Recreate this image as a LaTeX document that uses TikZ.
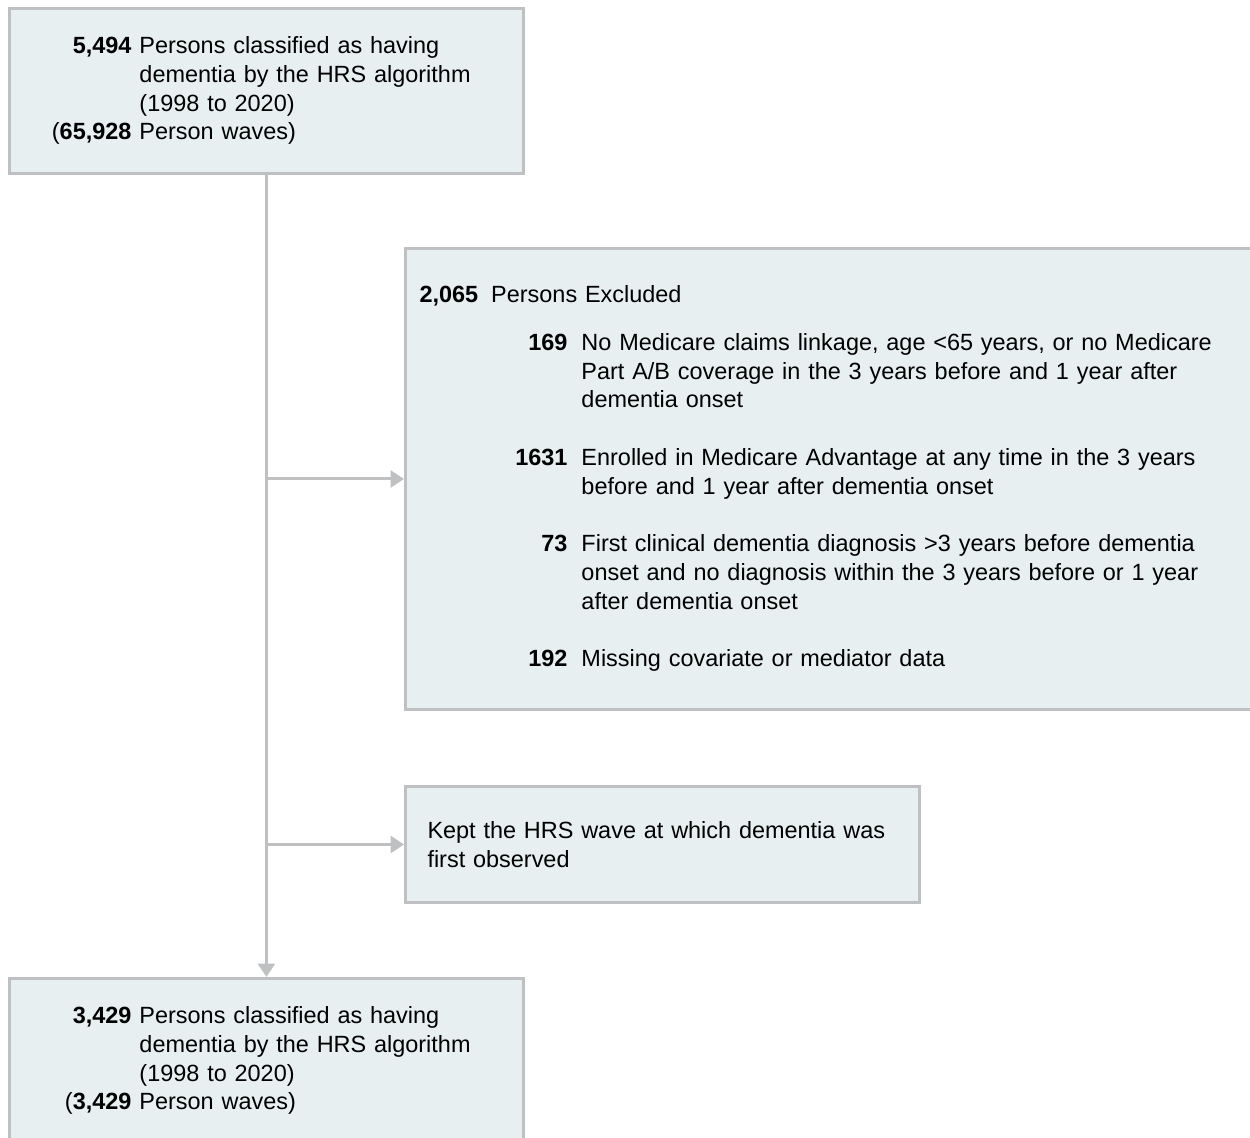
\documentclass[tikz,border=0pt]{standalone}
\usepackage{fontspec}
\setmainfont{Liberation Sans}
\usepackage{array}
\usetikzlibrary{positioning,arrows.meta,calc}
\definecolor{boxfill}{HTML}{E8EFF1}
\definecolor{boxline}{HTML}{BEC0C2}

\begin{document}
\begin{tikzpicture}[
  x=0.02cm, y=-0.02cm,
  font=\fontsize{13.35pt}{16.3pt}\selectfont,
  box/.style={draw=boxline, fill=boxfill, line width=0.06cm, align=left, anchor=north west, inner ysep=0pt},
  flow/.style={draw=boxline, line width=0.06cm},
  flowarr/.style={flow, -{Triangle[length=0.27cm, width=0.34cm]}}
]
% Coordinates are given in pixels of the 1250 x 1138 layout (1px = 0.02cm)
\useasboundingbox (0,0) rectangle (1250,1138);

% Column x-positions (left edges of the boxes)
\def\cA{8}
\def\cB{404}

% Row y-positions (top edges of the boxes)
\def\rTop{7}
\def\rExcl{247}
\def\rKept{785}
\def\rBottom{977}

% Starting cohort (top left)
\node[box, minimum width=10.28cm, minimum height=3.3cm, text width=8.6cm, inner xsep=0.84cm] (start) at (\cA,\rTop) {%
  \begin{tabular}{@{}>{\raggedleft\arraybackslash}p{1.6cm}@{\hspace{0.16cm}}l@{}}
    \textbf{5,494} & Persons classified as having\\
                   & dementia by the HRS algorithm\\
                   & (1998 to 2020)\\
    (\textbf{65,928} & Person waves)
  \end{tabular}};

% Exclusions (right, runs off the page edge)
\node[box, minimum width=17.2cm, minimum height=9.22cm, text width=16.64cm, inner xsep=0.28cm] (excl) at (\cB,\rExcl) {%
  \begin{tabular}{@{}>{\raggedleft\arraybackslash}p{2.96cm}@{\hspace{0.28cm}}l@{}}
    \multicolumn{2}{@{}l@{}}{\textbf{2,065}\hspace{0.26cm}Persons Excluded}\\[0.39cm]
    \textbf{169} & No Medicare claims linkage, age <65 years, or no Medicare\\
                 & Part A/B coverage in the 3 years before and 1 year after\\
                 & dementia onset\\[0.58cm]
    \textbf{1631} & Enrolled in Medicare Advantage at any time in the 3 years\\
                  & before and 1 year after dementia onset\\[0.58cm]
    \textbf{73} & First clinical dementia diagnosis >3 years before dementia\\
                & onset and no diagnosis within the 3 years before or 1 year\\
                & after dementia onset\\[0.58cm]
    \textbf{192} & Missing covariate or mediator data
  \end{tabular}};

% Wave selection (right, below the exclusions)
\node[box, minimum width=10.28cm, minimum height=2.32cm, text width=9.4cm, inner xsep=0.44cm] (kept) at (\cB,\rKept) {%
  Kept the HRS wave at which dementia was\\
  first observed};

% Final sample (bottom left, runs off the page edge)
\node[box, minimum width=10.28cm, minimum height=3.3cm, text width=8.6cm, inner xsep=0.84cm] (finish) at (\cA,\rBottom) {%
  \begin{tabular}{@{}>{\raggedleft\arraybackslash}p{1.6cm}@{\hspace{0.16cm}}l@{}}
    \textbf{3,429} & Persons classified as having\\
                   & dementia by the HRS algorithm\\
                   & (1998 to 2020)\\
    (\textbf{3,429} & Person waves)
  \end{tabular}};

% Branch points on the main line
\coordinate (jexcl) at (start.south |- excl.west);
\coordinate (jkept) at (start.south |- kept.west);

% Connectors
\draw[flowarr] (start) -- (finish);
\draw[flowarr] (jexcl) -- (excl);
\draw[flowarr] (jkept) -- (kept);

\end{tikzpicture}
\end{document}
